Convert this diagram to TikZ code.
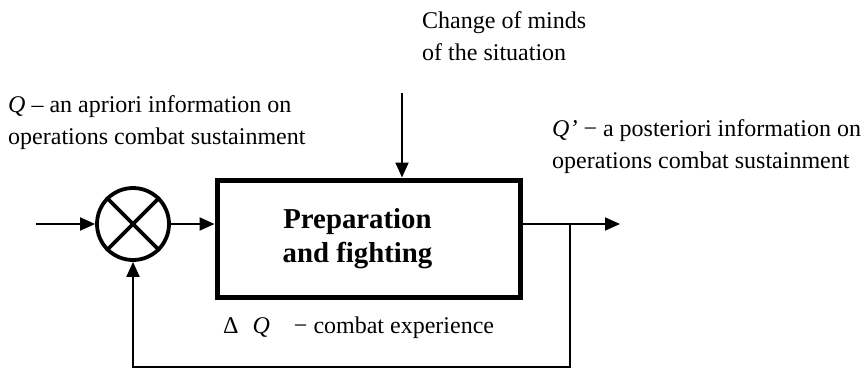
\documentclass[tikz,border=0pt]{standalone}
\usepackage{fontspec}
\setmainfont{Liberation Serif}
\usetikzlibrary{arrows.meta}
\begin{document}
\begin{tikzpicture}[x=1pt,y=-1pt,
  conn/.style={line width=2pt,-{Triangle[length=15pt,width=13pt]}},
  txt/.style={anchor=base west,inner sep=0pt,font=\fontsize{24}{32}\selectfont},
  bigtxt/.style={align=center,inner sep=0pt,font=\fontsize{28.8}{34}\selectfont\bfseries}]
\useasboundingbox (0,0) rectangle (862,369);
% blocks
\node[draw,line width=5pt,minimum width=303pt,minimum height=117pt,inner sep=0pt] (box) at (368.5,238.5) {};
\node[bigtxt,anchor=base] (boxlabel) at (357.5,262) {Preparation\\and fighting};
\node[circle,draw,line width=3.8pt,minimum size=72pt,inner sep=0pt] (sum) at (133,224) {};
\draw[line width=3.8pt] (sum.45) -- (sum.225) (sum.135) -- (sum.-45);
% coordinates
\coordinate (in) at (36,224);
\coordinate (out) at (620,224);
\coordinate (tap) at (570,224);
\coordinate (fb) at (570,367);
\coordinate (top) at (402,93);
% connectors
\draw[conn] (in) -- (sum.west);
\draw[conn] (sum.east) -- (sum.east -| box.west);
\draw[conn] (sum.east -| box.east) -- (out);
\draw[conn] (tap) -- (fb) -| (sum.south);
\draw[conn] (top) -- (top |- box.north);
% texts
\node[txt] (t1) at (422,29) {Change of minds};
\node[txt] (t2) at (422,61) {of the situation};
\node[txt] (l1) at (8,112) {\textit{Q} – an apriori information on};
\node[txt] (l2) at (8,144) {operations combat sustainment};
\node[txt] (r1) at (552,136) {\textit{Q’} − a posteriori information on};
\node[txt] (r2) at (552,168) {operations combat sustainment};
\node[txt] (d1) at (223,333) {Δ\hspace{14pt}\textit{Q}\hspace{24pt}− combat experience};
\end{tikzpicture}
\end{document}
